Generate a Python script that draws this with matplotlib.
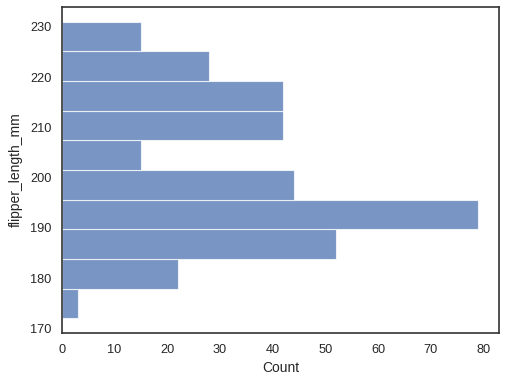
import matplotlib

matplotlib.use("Agg")

import matplotlib.pyplot as plt
import numpy as np
import seaborn as sns

# histogram of flipper_length_mm, horizontal bars
bin_edges = [172.0, 177.9, 183.8, 189.7, 195.6, 201.5, 207.4, 213.3, 219.2, 225.1, 231.0]
counts = [3, 22, 52, 79, 44, 15, 42, 42, 28, 15]

sns.set_theme(style="white")
plt.rcParams["font.family"] = ["Arial", "Liberation Sans", "DejaVu Sans"]
plt.rcParams.update({"xtick.labelsize": 11.5, "ytick.labelsize": 11.5,
                     "axes.labelsize": 12.5})

fig, ax = plt.subplots(figsize=(507 / 80, 385 / 80), dpi=80)
fig.subplots_adjust(left=0.122, right=0.984, bottom=0.135, top=0.982)

edges = np.array(bin_edges)
ax.barh(edges[:-1], counts, height=np.diff(edges), align="edge",
        color="#4c72b0", alpha=0.75, edgecolor="white", linewidth=1.0)

ax.set_ylim(169.05, 233.95)
ax.set_xlim(0, 82.95)
ax.set_xlabel("Count", labelpad=5)
ax.set_ylabel("flipper_length_mm", labelpad=6)
for side in ax.spines.values():
    side.set_color("#333333")
    side.set_linewidth(1.5)

fig.savefig("out.png", dpi=80)
